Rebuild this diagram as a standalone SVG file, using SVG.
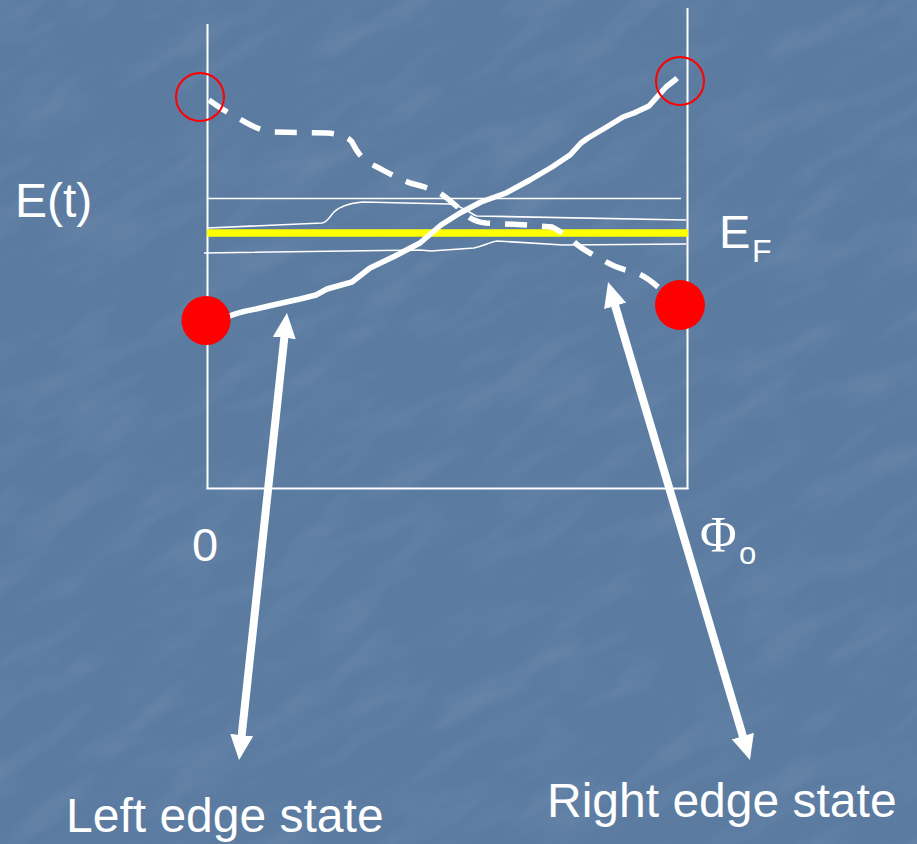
<svg xmlns="http://www.w3.org/2000/svg" width="917" height="844" viewBox="0 0 917 844">
  <style>
    .thin { fill: none; stroke: #ffffff; stroke-width: 1.6; }
    .axis { fill: none; stroke: #ffffff; stroke-width: 2; }
    .lbl { font-family: "Liberation Sans", Arial, sans-serif; fill: #ffffff; }
    .ring { fill: none; stroke: #ff0000; stroke-width: 2; }
    .dot { fill: #ff0000; }
    .arrow { fill: none; stroke: #ffffff; stroke-width: 8; }
  </style>
  <defs>
    <filter id="tex" x="0" y="0" width="100%" height="100%">
      <feTurbulence type="fractalNoise" baseFrequency="0.01 0.035" numOctaves="3" seed="7" result="n"/>
      <feColorMatrix in="n" type="matrix" values="0 0 0 0 1  0 0 0 0 1  0 0 0 0 1  0 0 0 0.9 -0.4"/>
    </filter>
    <marker id="ah" markerUnits="userSpaceOnUse" markerWidth="30" markerHeight="26" viewBox="0 -13 30 26" refX="2" refY="0" orient="auto-start-reverse">
      <path d="M0,-11.5 L25,0 L0,11.5 z" fill="#ffffff"/>
    </marker>
  </defs>

  <rect width="917" height="844" fill="#5b7ba1"/>
  <rect x="-400" y="-400" width="1700" height="1700" filter="url(#tex)" opacity="0.16" transform="rotate(-30 458 422)"/>

  <g id="frame">
    <line class="axis" x1="207.5" y1="24" x2="207.5" y2="489"/>
    <line class="axis" x1="687.5" y1="8" x2="687.5" y2="489"/>
    <line class="axis" x1="206.5" y1="488.5" x2="688.5" y2="488.5"/>
  </g>

  <g id="bands">
    <path class="thin" d="M207,198.5 L681,198.5"/>
    <path class="thin" d="M207.5,228 L322,223 C328,222 330,216 334,212 C340,206 352,203 363,202 L449,204 C462,205 470,214 477,216 L686,220"/>
    <path class="thin" d="M204,253 L420,250 L431,251 L474,248 C484,246 490,242 497,241 L563,245 L686,244"/>
  </g>

  <g id="fermi-level">
    <line x1="207" y1="233" x2="688" y2="233" stroke="#ffff00" stroke-width="7.5"/>
  </g>

  <g id="left-edge-state-curve">
    <path d="M223,319 C230,315 240,312 256,309 L273,305 L300,299 L316,295 L327,289 L352,282 L370,268 L395,256 L420,243 L441,225 L460,213 L481,202 L506,193 L530,180 L552,167 L570,155 L581,143 L588,138 L605,128 L623,117 L634,113 L649,106 L666,87 L675,80 L677,78" fill="none" stroke="#ffffff" stroke-width="5.5" stroke-linejoin="round"/>
  </g>

  <g id="right-edge-state-curve">
    <path d="M209,100 C220,108 228,113 238,118 C248,124 258,130 272,132 L327,133 C340,134 348,137 352,142 C357,152 362,160 375,166 C385,171 395,177 410,183 C425,187 432,189 438,192 C448,198 455,205 462,211 C468,217 474,222 486,223 L527,225 L552,227 C560,231 565,235 572,240 C578,246 584,250 599,258 C608,263 615,268 630,271 C642,274 650,280 659,288" fill="none" stroke="#ffffff" stroke-width="5.5" stroke-dasharray="22 15"/>
  </g>

  <g id="markers">
    <circle class="ring" cx="200" cy="97" r="24"/>
    <circle class="ring" cx="680" cy="81" r="24"/>
    <circle class="dot" cx="206" cy="320.5" r="24.5"/>
    <circle class="dot" cx="680" cy="305" r="25"/>
  </g>

  <g id="connectors">
    <line class="arrow" x1="284.5" y1="335.9" x2="241.5" y2="737.1" marker-start="url(#ah)" marker-end="url(#ah)"/>
    <line class="arrow" x1="614.6" y1="304" x2="743.4" y2="738" marker-start="url(#ah)" marker-end="url(#ah)"/>
  </g>

  <g id="label-Et"><text class="lbl" x="15" y="217" font-size="48">E(t)</text></g>
  <g id="label-EF">
    <text class="lbl" x="719" y="248" font-size="47">E</text>
    <text class="lbl" x="752" y="261.5" font-size="32">F</text>
  </g>
  <g id="label-0"><text class="lbl" x="192" y="561" font-size="47">0</text></g>
  <g id="label-Phi0">
    <text x="700" y="551" font-size="50" fill="#ffffff" font-family="'Liberation Serif', 'Times New Roman', serif">Φ</text>
    <text class="lbl" x="739" y="564" font-size="31">o</text>
  </g>
  <g id="label-left"><text class="lbl" x="66" y="832" font-size="48">Left edge state</text></g>
  <g id="label-right"><text class="lbl" x="547" y="816.5" font-size="48">Right edge state</text></g>
</svg>
